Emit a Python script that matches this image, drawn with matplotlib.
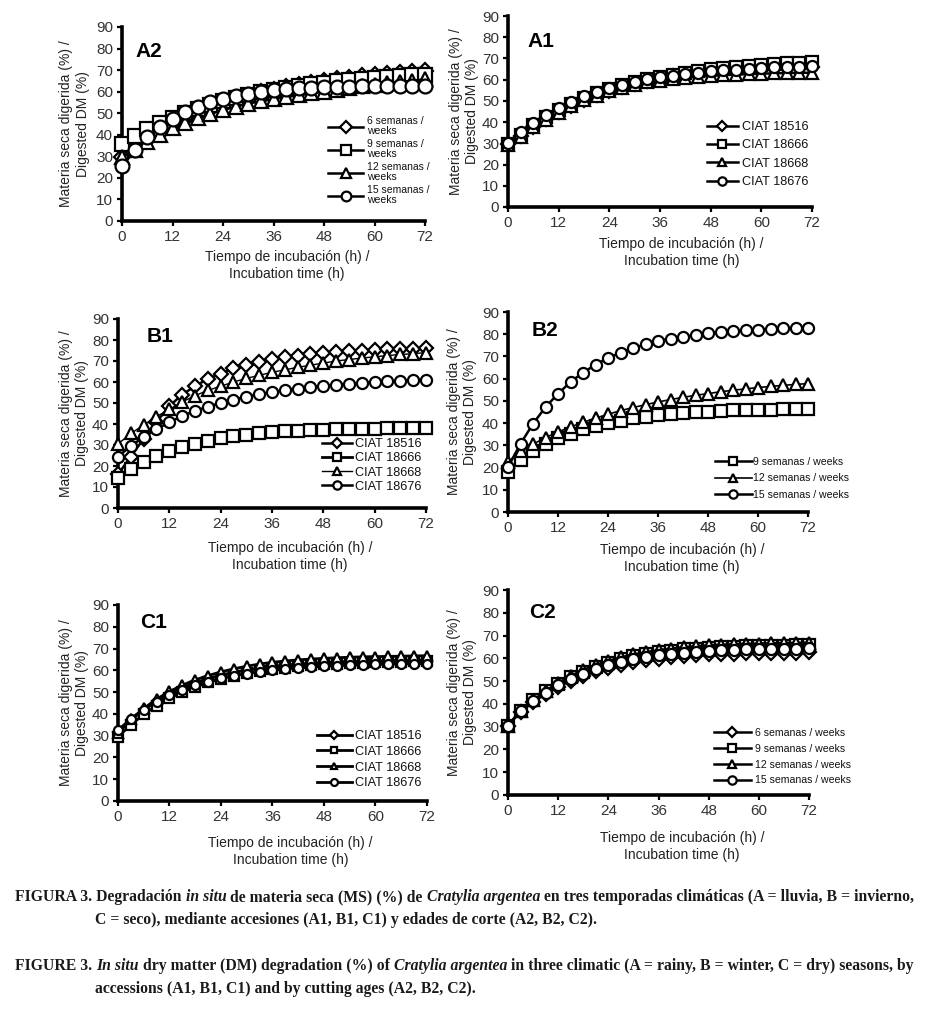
import matplotlib
matplotlib.use("Agg")
import matplotlib.pyplot as plt
from matplotlib import font_manager

# ---------------- data ----------------
hours = [0, 3, 6, 9, 12, 15, 18, 21, 24, 27, 30, 33, 36, 39, 42, 45, 48, 51, 54, 57, 60, 63, 66, 69, 72]

x_ticks = [0, 12, 24, 36, 48, 60, 72]
y_ticks = [0, 10, 20, 30, 40, 50, 60, 70, 80, 90]

labels_age_A2 = ["6 semanas /\nweeks", "9 semanas /\nweeks", "12 semanas /\nweeks", "15 semanas /\nweeks"]
labels_age_B2 = ["9 semanas / weeks", "12 semanas / weeks", "15 semanas / weeks"]
labels_age_C2 = ["6 semanas / weeks", "9 semanas / weeks", "12 semanas / weeks", "15 semanas / weeks"]
labels_acc = ["CIAT 18516", "CIAT 18666", "CIAT 18668", "CIAT 18676"]

# A2 (rainy season, cutting ages)
A2_6w = [29.5, 33.5, 37.5, 41.0, 44.5, 47.5, 50.0, 52.5, 54.5, 56.5, 58.2, 59.7, 61.0, 62.2, 63.2, 64.1, 65.0, 65.8, 66.5, 67.1, 67.7, 68.2, 68.6, 69.0, 69.4]
A2_9w = [35.5, 39.5, 42.7, 45.3, 47.7, 50.0, 52.0, 53.9, 55.6, 57.1, 58.5, 59.7, 60.8, 61.8, 62.7, 63.5, 64.2, 64.9, 65.5, 66.0, 66.5, 66.9, 67.3, 67.6, 67.9]
A2_12w = [29.5, 33.0, 36.7, 40.0, 43.0, 45.5, 47.6, 49.6, 51.5, 53.0, 54.5, 55.5, 56.5, 57.5, 58.3, 59.2, 60.0, 60.8, 61.6, 62.4, 63.1, 63.8, 64.5, 65.1, 65.7]
A2_15w = [25.5, 33.0, 38.8, 43.7, 47.5, 50.5, 53.0, 55.0, 56.7, 58.0, 59.1, 60.0, 60.6, 61.1, 61.5, 61.8, 62.0, 62.2, 62.3, 62.4, 62.5, 62.6, 62.6, 62.7, 62.7]

# A1 (rainy season, accessions)
A1_18516 = [29.5, 33.5, 37.8, 41.5, 44.8, 47.8, 50.5, 52.8, 54.8, 56.6, 58.1, 59.4, 60.5, 61.5, 62.3, 63.0, 63.6, 64.1, 64.5, 64.9, 65.2, 65.5, 65.7, 65.9, 66.1]
A1_18666 = [29.5, 34.0, 38.5, 42.3, 45.6, 48.5, 51.2, 53.5, 55.5, 57.3, 58.8, 60.1, 61.3, 62.3, 63.2, 64.0, 64.8, 65.4, 66.0, 66.5, 67.0, 67.4, 67.7, 68.0, 68.3]
A1_18668 = [29.0, 33.0, 37.5, 41.0, 44.5, 47.5, 50.2, 52.5, 54.5, 56.2, 57.6, 58.7, 59.6, 60.3, 60.9, 61.4, 61.8, 62.1, 62.4, 62.6, 62.8, 63.0, 63.1, 63.2, 63.3]
A1_18676 = [30.3, 35.3, 39.8, 43.5, 46.8, 49.5, 52.2, 54.2, 56.1, 57.7, 58.9, 60.5, 61.3, 61.9, 62.9, 63.3, 64.1, 64.4, 64.7, 65.2, 65.5, 65.8, 66.0, 66.1, 66.3]

# B1 (winter, accessions)
B1_18516 = [16.0, 24.5, 33.0, 41.0, 48.5, 54.0, 58.0, 61.5, 64.0, 66.5, 68.0, 69.5, 70.8, 71.8, 72.6, 73.3, 73.8, 74.3, 74.7, 75.0, 75.3, 75.5, 75.7, 75.9, 76.0]
B1_18666 = [14.5, 18.5, 21.8, 24.7, 27.0, 29.0, 30.6, 32.0, 33.2, 34.2, 35.0, 35.6, 36.1, 36.5, 36.8, 37.1, 37.3, 37.5, 37.6, 37.7, 37.8, 37.9, 37.9, 38.0, 38.0]
B1_18668 = [30.5, 35.5, 39.5, 43.5, 47.0, 50.5, 53.5, 56.0, 58.0, 60.0, 61.7, 63.2, 64.6, 65.8, 67.0, 68.0, 69.0, 70.0, 70.7, 71.4, 72.0, 72.6, 73.1, 73.5, 74.0]
B1_18676 = [24.5, 29.5, 33.8, 37.5, 40.8, 43.8, 46.2, 48.3, 50.0, 51.6, 53.0, 54.2, 55.2, 56.1, 56.9, 57.6, 58.2, 58.7, 59.2, 59.6, 60.0, 60.3, 60.6, 60.9, 61.1]

# B2 (winter, cutting ages)
B2_9w = [18.0, 23.5, 27.5, 30.5, 33.2, 35.3, 37.2, 38.7, 40.0, 41.1, 42.1, 42.8, 43.5, 44.0, 44.5, 44.9, 45.2, 45.5, 45.7, 45.9, 46.0, 46.1, 46.2, 46.3, 46.4]
B2_12w = [22.5, 27.5, 30.5, 33.5, 36.0, 38.3, 40.3, 42.2, 44.0, 45.6, 47.0, 48.3, 49.5, 50.6, 51.6, 52.5, 53.3, 54.1, 54.8, 55.4, 56.0, 56.5, 57.0, 57.4, 57.8]
B2_15w = [20.2, 30.7, 39.7, 47.2, 53.2, 58.5, 62.7, 66.3, 69.3, 71.7, 73.8, 75.4, 77.1, 78.0, 78.8, 79.6, 80.4, 81.0, 81.5, 81.7, 82.0, 82.5, 82.6, 82.8, 82.8]

# C1 (dry season, accessions)
C1_18516 = [31.5, 37.0, 42.0, 46.0, 49.3, 52.0, 54.3, 56.2, 57.8, 59.1, 60.2, 61.1, 61.8, 62.4, 62.9, 63.3, 63.6, 63.9, 64.1, 64.3, 64.4, 64.5, 64.6, 64.7, 64.8]
C1_18666 = [29.5, 35.0, 39.8, 43.8, 47.2, 50.1, 52.5, 54.5, 56.2, 57.6, 58.8, 59.8, 60.6, 61.3, 61.9, 62.3, 62.7, 63.0, 63.3, 63.5, 63.7, 63.9, 64.0, 64.1, 64.2]
C1_18668 = [31.0, 37.5, 42.5, 46.8, 50.3, 53.2, 55.6, 57.6, 59.3, 60.7, 61.9, 62.9, 63.7, 64.3, 64.8, 65.2, 65.5, 65.8, 66.0, 66.2, 66.3, 66.4, 66.5, 66.6, 66.7]
C1_18676 = [32.5, 37.8, 42.0, 45.5, 48.5, 51.0, 53.1, 54.8, 56.3, 57.5, 58.5, 59.3, 60.0, 60.6, 61.1, 61.5, 61.8, 62.1, 62.3, 62.5, 62.7, 62.8, 62.9, 63.0, 63.1]

# C2 (dry season, cutting ages)
C2_6w = [30.5, 36.5, 40.8, 44.5, 47.6, 50.2, 52.4, 54.3, 55.9, 57.2, 58.3, 59.2, 59.9, 60.5, 61.0, 61.4, 61.7, 61.9, 62.1, 62.2, 62.3, 62.4, 62.5, 62.5, 62.6]
C2_9w = [30.5, 37.0, 41.5, 45.5, 48.8, 51.7, 54.2, 56.3, 58.1, 59.6, 60.9, 61.9, 62.7, 63.4, 63.9, 64.3, 64.6, 64.9, 65.1, 65.3, 65.4, 65.5, 65.6, 65.7, 65.8]
C2_12w = [30.5, 37.0, 41.5, 45.8, 49.2, 52.3, 54.9, 57.1, 58.9, 60.4, 61.7, 62.7, 63.6, 64.3, 64.9, 65.3, 65.7, 66.0, 66.2, 66.4, 66.5, 66.6, 66.7, 66.8, 66.9]
C2_15w = [30.5, 36.8, 41.2, 45.0, 48.2, 51.0, 53.3, 55.3, 57.0, 58.4, 59.6, 60.6, 61.4, 62.0, 62.5, 62.9, 63.2, 63.5, 63.7, 63.9, 64.0, 64.1, 64.2, 64.3, 64.4]

xlabel_text = "Tiempo de incubación (h) /\nIncubation time (h)"
ylabel_text = "Materia seca digerida (%) /\nDigested DM (%)"

# ---------------- layout ----------------
W, H = 935, 1017
fig = plt.figure(figsize=(W / 100, H / 100), dpi=100)
fig.patch.set_facecolor("white")

names = {f.name for f in font_manager.fontManager.ttflist}
NARROW = "Liberation Sans Narrow" if "Liberation Sans Narrow" in names else "Liberation Sans"
SANS = "Liberation Sans"


def px_rect(x0, x1, ytop, ybot):
    return [x0 / W, 1 - ybot / H, (x1 - x0) / W, (ybot - ytop) / H]


panels = [
    dict(name="A2", rect=px_rect(122, 425, 27, 221), ms=10,
         series=[(A2_6w, "D", labels_age_A2[0], 1.8), (A2_9w, "s", labels_age_A2[1], 1.8),
                 (A2_12w, "^", labels_age_A2[2], 1.8), (A2_15w, "o", labels_age_A2[3], 1.8)],
         tag=(0.043, 0.872), xl=(0.545, 250), yl=-0.158,
         leg=dict(x=328, top=116, fs=7.5, hl=3.37, pad=0.38, sp=0.25, font=SANS, ms=7)),
    dict(name="A1", rect=px_rect(508, 812, 16, 207), ms=8,
         series=[(A1_18516, "D", labels_acc[0], 1.8), (A1_18666, "s", labels_acc[1], 1.8),
                 (A1_18668, "^", labels_acc[2], 1.8), (A1_18676, "o", labels_acc[3], 1.8)],
         tag=(0.0625, 0.867), xl=(0.57, 237), yl=-0.145,
         leg=dict(x=707, top=121, fs=9.2, hl=2.4, pad=0.3, sp=0.5, font=NARROW, ms=6)),
    dict(name="B1", rect=px_rect(118, 426, 319, 508), ms=8,
         series=[(B1_18516, "D", labels_acc[0], 1.8), (B1_18666, "s", labels_acc[1], 2.0),
                 (B1_18668, "^", labels_acc[2], 1.0), (B1_18676, "o", labels_acc[3], 1.8)],
         tag=(0.094, 0.91), xl=(0.558, 541), yl=-0.143,
         leg=dict(x=322, top=438, fs=9.2, hl=2.35, pad=0.25, sp=0.18, font=NARROW, ms=6)),
    dict(name="B2", rect=px_rect(508, 808, 312, 512), ms=8,
         series=[(B2_9w, "s", labels_age_B2[0], 1.8), (B2_12w, "^", labels_age_B2[1], 1.2),
                 (B2_15w, "o", labels_age_B2[2], 1.8)],
         tag=(0.08, 0.909), xl=(0.58, 543), yl=-0.153,
         leg=dict(x=715, top=457, fs=7.6, hl=3.5, pad=0.1, sp=0.6, font=SANS, ms=6)),
    dict(name="C1", rect=px_rect(118, 427, 605, 801), ms=6.5,
         series=[(C1_18516, "D", labels_acc[0], 2.0), (C1_18666, "s", labels_acc[1], 2.0),
                 (C1_18668, "^", labels_acc[2], 2.0), (C1_18676, "o", labels_acc[3], 2.0)],
         tag=(0.071, 0.91), xl=(0.558, 836), yl=-0.142,
         leg=dict(x=317, top=730, fs=9.2, hl=2.7, pad=0.25, sp=0.3, font=NARROW, ms=5)),
    dict(name="C2", rect=px_rect(508, 809, 590, 795), ms=8,
         series=[(C2_6w, "D", labels_age_C2[0], 1.8), (C2_9w, "s", labels_age_C2[1], 1.8),
                 (C2_12w, "^", labels_age_C2[2], 1.8), (C2_15w, "o", labels_age_C2[3], 1.8)],
         tag=(0.07, 0.888), xl=(0.578, 831), yl=-0.153,
         leg=dict(x=714, top=728, fs=7.6, hl=3.46, pad=0.38, sp=0.55, font=SANS, ms=6)),
]

for p in panels:
    ax = fig.add_axes(p["rect"])
    for data, mk, lab, lw in p["series"]:
        ax.plot(hours, data, color="black", lw=lw, marker=mk, ms=p["ms"] * (0.85 if mk == "D" else 1.0),
                mfc="white", mec="black", mew=1.6, label=lab, clip_on=False, zorder=3)
    ax.set_xlim(0, 72)
    ax.set_ylim(0, 90)
    ax.set_xticks(x_ticks)
    ax.set_yticks(y_ticks)
    for s in ("top", "right"):
        ax.spines[s].set_visible(False)
    for s in ("left", "bottom"):
        ax.spines[s].set_linewidth(2.6)
        ax.spines[s].set_color("black")
        ax.spines[s].set_zorder(2)
    ax.tick_params(direction="out", length=3.5, width=1.6, color="black", pad=3,
                   labelsize=11, labelcolor="#333333")
    for lbl in ax.get_xticklabels() + ax.get_yticklabels():
        lbl.set_fontfamily(NARROW)
    ax.patch.set_alpha(0)
    ax.text(p["tag"][0], p["tag"][1], p["name"], transform=ax.transAxes, fontsize=15,
            fontweight="bold", family=SANS, ha="left", va="center", color="black")
    bb = ax.get_position()
    x_fig = bb.x0 + p["xl"][0] * bb.width
    fig.text(x_fig, 1 - p["xl"][1] / H, xlabel_text, ha="center", va="top", fontsize=10,
             family=SANS, color="#222222", linespacing=1.25)
    ax.text(p["yl"], 0.5, ylabel_text, transform=ax.transAxes, rotation=90, ha="center",
            va="center", fontsize=10, family=SANS, color="#222222", linespacing=1.25)
    L = p["leg"]
    leg = ax.legend(loc="upper left", bbox_to_anchor=(L["x"] / W, 1 - L["top"] / H),
                    bbox_transform=fig.transFigure, frameon=False, borderpad=0, borderaxespad=0,
                    handlelength=L["hl"], handletextpad=L["pad"], labelspacing=L["sp"],
                    prop={"family": L["font"], "size": L["fs"]}, markerscale=L["ms"] / p["ms"])
    for t in leg.get_texts():
        t.set_color("#111111")
        t.set_linespacing(1.05)

# ---------------- caption ----------------
renderer = fig.canvas.get_renderer()
SERIF = "Liberation Serif"
CAP_FS = 11.35


def rich_line(x_px, y_px, runs):
    x = x_px
    for txt, style in runs:
        t = fig.text(x / W, 1 - y_px / H, txt, fontsize=CAP_FS, fontstyle=style,
                     fontweight="bold", family=SERIF, va="center", ha="left", color="#1a1a1a")
        x += t.get_window_extent(renderer).width


rich_line(15, 897, [("FIGURA 3. Degradación ", "normal"), ("in situ", "italic"),
                    (" de materia seca (MS) (%) de ", "normal"), ("Cratylia argentea", "italic"),
                    (" en tres temporadas climáticas (A = lluvia, B = invierno,", "normal")])
rich_line(95, 920, [("C = seco), mediante accesiones (A1, B1, C1) y edades de corte (A2, B2, C2).", "normal")])
rich_line(15, 966, [("FIGURE 3. ", "normal"), ("In situ", "italic"),
                    (" dry matter (DM) degradation (%) of ", "normal"), ("Cratylia argentea", "italic"),
                    (" in three climatic (A = rainy, B = winter, C = dry) seasons, by", "normal")])
rich_line(95, 989, [("accessions (A1, B1, C1) and by cutting ages (A2, B2, C2).", "normal")])

fig.savefig("out.png", dpi=100, facecolor="white")
